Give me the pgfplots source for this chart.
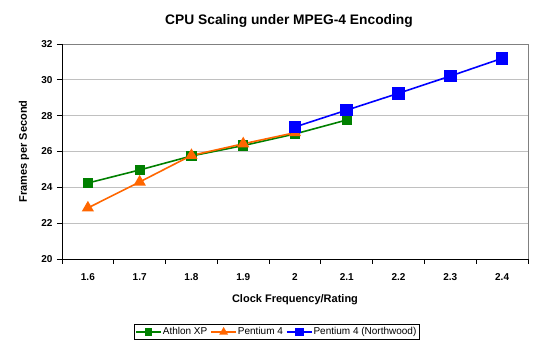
\documentclass[border=0pt]{standalone}
\usepackage{pgfplots}
\pgfplotsset{compat=1.18}
\usepackage{fontspec}
\setmainfont{Liberation Sans}
\definecolor{xlgreen}{RGB}{0,128,0}
\definecolor{xlorange}{RGB}{255,102,0}
\definecolor{xlblue}{RGB}{0,0,255}
\definecolor{gridgray}{RGB}{192,192,192}
\definecolor{boxgray}{RGB}{128,128,128}
\begin{document}
\begin{tikzpicture}[x=1pt,y=1pt]
\useasboundingbox (-62,-93) rectangle (480,259);
\begin{axis}[
  at={(0,0)}, anchor=south west,
  scale only axis, width=466pt, height=215pt,
  xmin=-0.5, xmax=8.5, ymin=20, ymax=32,
  ytick={20,22,...,32},
  xtick={0,...,8},
  xticklabels={1.6,1.7,1.8,1.9,2,2.1,2.2,2.3,2.4},
  tick pos=left,
  major x tick style={draw=none},
  extra x ticks={-0.5,0.5,...,8.5},
  extra x tick labels={},
  extra x tick style={major tick length=5pt, tick align=outside, xmajorgrids=false, major x tick style={draw=black, line width=0.8pt}},
  ymajorgrids, grid style={gridgray, line width=0.8pt},
  y tick style={black, line width=0.8pt}, major tick length=5pt, tick align=outside,
  axis line style={boxgray, line width=0.8pt},
  tick label style={font=\bfseries\fontsize{10}{12}\selectfont},
  /pgf/number format/assume math mode=true,
  xticklabel style={yshift=-6pt},
  yticklabel style={xshift=-1pt},
  title={\bfseries\fontsize{13.8}{15}\selectfont CPU Scaling under MPEG-4 Encoding},
  title style={at={(0.5,1)}, anchor=base, yshift=13pt, xshift=-6pt},
  xlabel={\bfseries\fontsize{11}{13}\selectfont Clock Frequency/Rating},
  ylabel={\bfseries\fontsize{11}{13}\selectfont Frames per Second},
  xlabel style={at={(0.5,0)}, anchor=center, yshift=-41pt},
  ylabel style={at={(axis description cs:-0.0815,0.5)}, anchor=center},
  legend columns=3,
  legend style={at={(0.461,-0.34)}, anchor=center, draw=black, line width=0.8pt,
    font=\fontsize{10}{12}\selectfont, inner sep=1pt,
    /tikz/every odd column/.append style={column sep=-1pt},
    /tikz/every even column/.append style={column sep=1pt}},
  legend image code/.code={\draw[#1, every mark/.append style={scale=0.65}] (0pt,0pt) -- (12pt,0pt) (25pt,0pt)--(12pt,0pt) plot coordinates {(12.5pt,0pt)};},
  every axis plot/.append style={line width=1.6pt},
  clip=false,
]
\addplot[xlgreen, mark=square*, mark size=4.3pt, mark options={solid}] coordinates {
 (0,24.24) (1,24.97) (2,25.75) (3,26.33) (4,26.98) (5,27.76)};
\addlegendentry{Athlon XP}
\addplot[xlorange, mark=triangle*, mark size=5.5pt, mark options={solid}] coordinates {
 (0,22.85) (1,24.3) (2,25.78) (3,26.43) (4,27.05)};
\addlegendentry{Pentium 4}
\addplot[xlblue, mark=square*, mark size=5.5pt, mark options={solid}] coordinates {
 (4,27.37) (5,28.31) (6,29.25) (7,30.21) (8,31.2)};
\addlegendentry{Pentium 4 (Northwood)}
\draw[black, line width=0.8pt] (rel axis cs:0,1) -- (rel axis cs:0,0) -- (rel axis cs:1,0);
\end{axis}
\end{tikzpicture}
\end{document}
